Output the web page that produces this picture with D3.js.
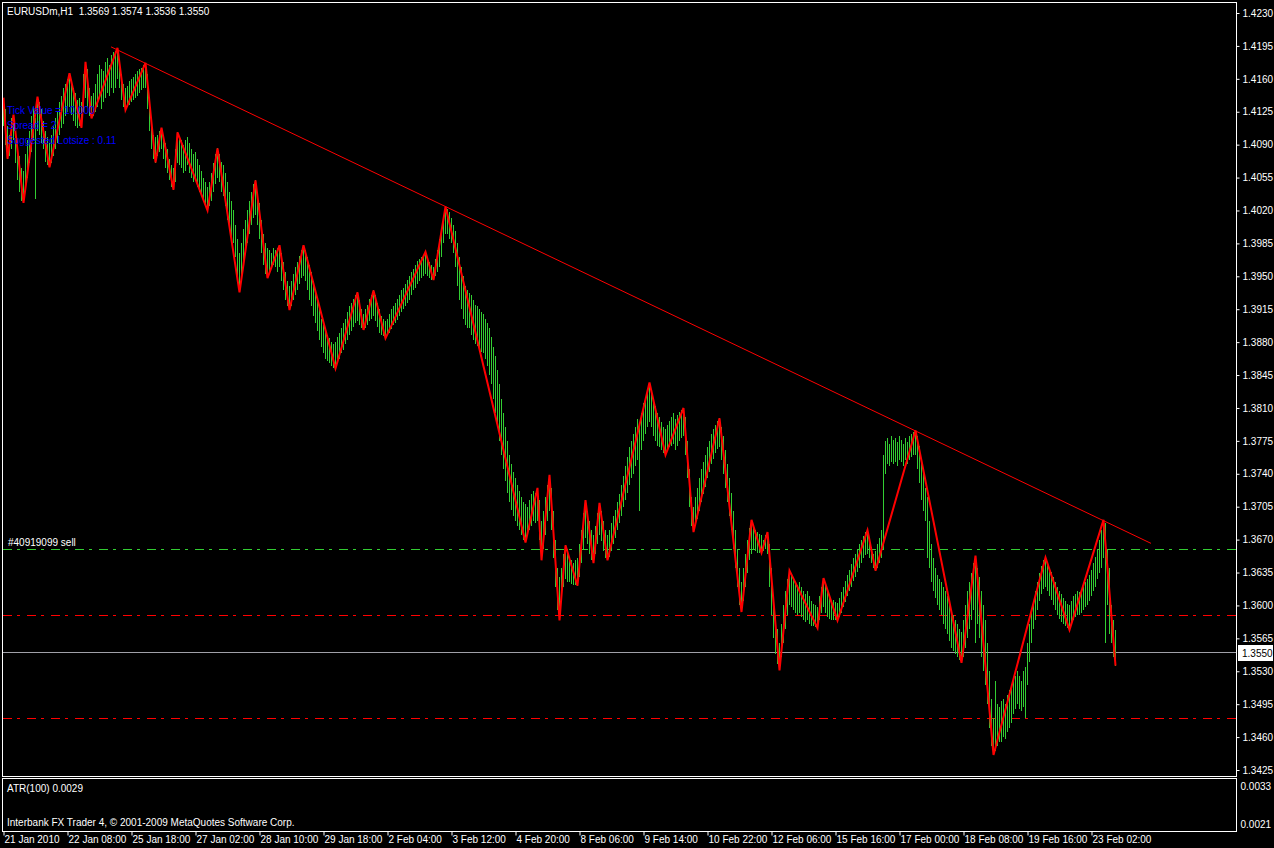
<!DOCTYPE html>
<html>
<head>
<meta charset="utf-8">
<script src="https://cdn.jsdelivr.net/npm/d3@7"></script>
<style>
  html, body { margin: 0; padding: 0; background: #000; }
  svg { display: block; }
  text { font-family: "Liberation Sans", Arial, sans-serif; }
</style>
</head>
<body>
<div id="chart"></div>
<script>
// EURUSDm H1 bars, values in pips above 1.3000 (1193 -> 1.4193)
const barHigh = [
  1140,1128,1110,1100,1118,1122,1105,1090,1078,1065,1062,
  1080,1095,1105,1120,1130,1118,1141,
  1135,1128,1115,1105,1098,1092,
  1100,1110,1118,1125,1135,1142,1150,1155,1160,1166,
  1158,1150,1145,1138,1140,1135,
  1165,1178,
  1170,1150,1142,
  1145,1155,1165,1175,1170,1168,1178,1182,1175,1185,1188,1190,1193,
  1180,1165,1155,1150,
  1152,1158,1160,1162,1165,1168,1170,1172,1175,1177,
  1165,1140,1118,1100,1098,
  1100,1105,1108,
  1100,1092,1085,1075,1068,1065,
  1085,1103,
  1098,1095,1090,1095,1098,1092,1085,1080,1082,1075,1068,1062,1055,1050,1045,
  1050,1060,1070,1080,1086,
  1080,1072,1068,1060,1050,1040,1030,1020,1005,990,975,
  985,1000,1010,1020,1030,1040,1048,1052,
  1040,1028,1010,995,985,980,
  978,975,980,978,980,983,
  975,965,955,945,940,
  945,952,960,965,972,978,983,
  978,970,962,955,945,935,925,915,905,898,892,888,884,880,878,880,
  885,890,895,900,905,912,918,922,926,930,933,
  925,915,910,
  915,920,926,930,935,
  930,922,915,908,905,902,
  905,910,915,918,922,926,930,935,938,942,946,950,955,958,962,966,968,970,972,976,
  970,965,962,960,
  968,978,990,1000,1012,1024,
  1022,1018,1012,1005,998,985,970,960,950,940,935,932,930,925,920,918,915,912,910,905,
  900,895,885,875,865,850,835,820,805,790,775,760,750,742,735,728,722,715,710,708,
  705,712,718,722,720,725,
  712,690,
  700,715,728,739,
  725,700,670,640,630,
  640,655,664,
  660,652,648,645,648,650,
  665,680,698,712,
  700,690,680,675,
  685,698,709,
  700,690,680,675,
  680,688,695,702,710,718,728,738,748,758,768,775,782,790,798,792,805,815,822,830,837,
  830,820,812,805,800,795,790,788,
  792,796,800,805,798,802,806,808,810,
  800,775,745,715,705,
  715,725,735,745,752,760,768,775,782,788,792,796,799,
  790,780,765,750,735,720,700,680,660,640,625,
  640,655,670,682,691,
  685,680,678,676,675,
  670,675,678,
  665,640,610,590,575,560,
  580,600,615,628,637,
  632,628,625,622,625,620,615,612,615,610,605,602,600,598,
  610,620,629,
  622,615,610,605,606,604,603,
  608,614,620,626,632,638,644,650,655,660,665,670,674,678,680,
  672,662,655,658,
  665,672,680,760,775,778,772,780,776,778,774,780,776,772,778,774,780,782,784,786,
  780,770,755,740,725,715,690,665,650,640,632,628,625,620,615,610,600,595,590,585,580,575,572,
  585,600,615,625,635,645,653,
  640,630,615,600,585,560,530,500,480,
  520,495,492,498,500,495,505,510,515,520,525,530,525,520,530,535,560,580,595,605,615,625,635,642,648,651,
  645,640,636,630,625,620,615,612,608,605,602,600,
  605,610,612,615,614,618,620,625,628,632,638,645,652,660,670,680,691,
  688,660,640,600,585,574
];
const barLow = [
  1110,1090,1075,1078,1085,1095,1070,1052,1040,1030,1028,
  1040,1055,1070,1082,1095,1032,1105,
  1100,1092,1085,1072,1068,1066,
  1070,1078,1085,1092,1100,1108,1112,1120,1125,1130,
  1122,1115,1110,1108,1110,1108,
  1125,1140,
  1130,1120,1118,
  1120,1125,1130,1140,1128,1135,1140,1145,1142,1150,1145,1150,1160,
  1150,1138,1130,1127,
  1130,1132,1135,1138,1140,1142,1145,1148,1150,1150,
  1128,1105,1085,1075,1071,
  1078,1082,1085,
  1075,1065,1060,1052,1045,1042,
  1050,1070,
  1068,1065,1060,1062,1068,1060,1055,1050,1052,1045,1040,1035,1030,1025,1020,
  1025,1030,1040,1048,1055,
  1050,1040,1035,1025,1010,1000,992,985,970,950,933,
  950,965,975,985,995,1005,1012,1015,
  1005,990,975,962,952,948,
  952,958,962,960,955,960,
  945,935,925,918,914,
  918,925,930,935,942,948,950,
  945,935,925,918,908,900,892,882,875,868,862,860,858,855,853,852,
  858,862,868,872,878,882,888,892,896,900,902,
  898,895,893,
  895,898,902,905,908,
  902,896,890,888,886,884,
  888,890,894,898,900,904,908,912,915,918,922,925,930,935,938,942,945,948,950,952,
  950,948,946,946,
  950,955,960,970,985,995,
  995,990,985,975,960,940,925,915,905,898,895,895,888,882,878,876,872,870,868,862,
  855,845,835,820,805,790,775,760,745,732,720,710,702,695,690,685,680,675,670,667,
  675,680,685,690,688,690,
  670,648,
  660,675,690,700,
  680,650,620,595,584,
  605,620,628,
  625,625,623,622,622,621,
  630,645,660,672,
  665,655,648,645,
  655,665,675,
  668,658,650,648,
  652,658,665,672,680,688,695,705,712,720,728,735,740,748,755,700,765,775,782,790,795,
  790,780,775,770,768,765,762,760,
  765,768,770,772,765,770,775,778,780,
  760,735,705,685,678,
  685,692,700,710,718,726,735,742,750,756,762,766,768,
  755,740,725,710,695,680,660,640,620,600,593,
  605,620,635,648,655,
  660,658,656,656,656,
  658,660,655,
  620,590,565,548,538,531,
  545,560,575,590,600,
  598,595,592,590,592,588,585,582,585,580,578,578,577,576,
  585,592,598,
  592,588,586,585,585,584,584,
  588,592,598,604,610,615,620,626,630,636,640,645,650,654,655,
  650,645,640,637,
  640,645,650,660,740,750,748,752,750,752,748,755,752,748,755,750,755,758,760,760,
  745,730,712,700,690,650,640,625,615,608,600,595,590,580,575,570,562,555,552,548,545,542,539,
  545,555,565,575,585,595,560,
  580,565,545,530,515,495,470,450,441,
  445,450,455,455,460,458,465,470,475,485,490,495,490,488,492,480,515,540,560,575,585,595,605,612,618,620,
  615,610,606,600,595,590,586,582,580,578,576,574,
  580,585,588,590,590,592,595,598,600,605,610,615,620,628,635,640,650,
  560,600,570,560,545,536
];

// ZigZag turning points: bar index and price (pips above 1.3000)
const zzBar = [0,2,5,10,17,23,33,39,41,44,57,61,71,76,79,85,87,102,107,118,126,132,138,143,150,166,177,180,185,191,
  211,215,221,261,267,269,273,278,281,287,291,295,298,302,323,331,340,345,358,369,374,379,382,388,393,407,410,417,
  432,436,456,479,486,495,521,533,550,556];
const zzPips = [1140,1075,1122,1028,1141,1066,1166,1108,1178,1118,1193,1127,1177,1071,1108,1042,1103,1020,1086,933,1052,948,983,914,983,852,933,893,935,884,
  976,946,1024,667,725,648,739,584,664,621,712,645,709,648,837,760,810,678,799,593,691,656,678,531,637,576,629,584,
  680,637,786,539,653,441,651,574,691,536];

// trend line anchors (bar index, price)
const trendBar = [54, 574];
const trendPrice = [1.4194, 1.3666];

// horizontal levels
const orderPrice = 1.3660;
const stopPrices = [1.3590, 1.3480];
const lastPrice = 1.3550;

const priceTicks = [1.4230,1.4195,1.4160,1.4125,1.4090,1.4055,1.4020,1.3985,1.3950,1.3915,1.3880,1.3845,
  1.3810,1.3775,1.3740,1.3705,1.3670,1.3635,1.3600,1.3565,1.3530,1.3495,1.3460,1.3425];
const atrTicks = [0.0033, 0.0021];

const timeBars = [0,32,64,96,128,160,192,224,256,288,320,352,384,416,448,480,512,544];
const timeLabels = ["21 Jan 2010","22 Jan 08:00","25 Jan 18:00","27 Jan 02:00","28 Jan 10:00","29 Jan 18:00",
  "2 Feb 04:00","3 Feb 12:00","4 Feb 20:00","8 Feb 06:00","9 Feb 14:00","10 Feb 22:00","12 Feb 06:00",
  "15 Feb 16:00","17 Feb 00:00","18 Feb 08:00","19 Feb 16:00","23 Feb 02:00"];

const toPrice = p => 1.3 + p / 10000;

const W = 1274, H = 848;
const panelRight = 1236, mainTop = 2, mainBottom = 776, atrTop = 778, atrBottom = 831;

const svg = d3.select("#chart").append("svg")
  .attr("width", W).attr("height", H)
  .style("background", "#000");

// bar index -> pixel, 2px per bar
const x = d3.scaleLinear().domain([0, 1]).range([3, 5]);
const y = d3.scaleLinear().domain([1.3425, 1.4230]).range([770, 13]);
const yAtr = d3.scaleLinear().domain([0.0021, 0.0033]).range([824, 786]);

svg.append("clipPath").attr("id", "main-clip")
  .append("rect").attr("x", 3).attr("y", mainTop + 1)
  .attr("width", panelRight - 3).attr("height", mainBottom - mainTop - 1);

const plot = svg.append("g").attr("clip-path", "url(#main-clip)");

// horizontal levels
function dashLine(price, color) {
  plot.append("line")
    .attr("x1", 3).attr("x2", panelRight)
    .attr("y1", Math.round(y(price)) + 0.5).attr("y2", Math.round(y(price)) + 0.5)
    .attr("stroke", color).attr("stroke-width", 1)
    .attr("stroke-dasharray", "9,5,3,7")
    .attr("shape-rendering", "crispEdges");
}
dashLine(orderPrice, "#32cd32");
stopPrices.forEach(p => dashLine(p, "#ff0000"));

plot.append("line")
  .attr("x1", 3).attr("x2", panelRight)
  .attr("y1", Math.round(y(lastPrice)) + 0.5).attr("y2", Math.round(y(lastPrice)) + 0.5)
  .attr("stroke", "#a0a0a8").attr("shape-rendering", "crispEdges");

// price bars
plot.append("g").selectAll("line")
  .data(d3.range(barHigh.length))
  .join("line")
  .attr("x1", i => Math.round(x(i)) + 0.5)
  .attr("x2", i => Math.round(x(i)) + 0.5)
  .attr("y1", i => y(toPrice(barHigh[i])))
  .attr("y2", i => y(toPrice(barLow[i])))
  .attr("stroke", "#32cd32")
  .attr("stroke-width", 1)
  .attr("shape-rendering", "crispEdges");

// zigzag
const zz = zzBar.map((b, k) => [b, toPrice(zzPips[k])]);
plot.append("path")
  .datum(zz)
  .attr("d", d3.line().x(d => x(d[0]) + 0.5).y(d => y(d[1])))
  .attr("fill", "none")
  .attr("stroke", "#ff0000")
  .attr("stroke-width", 2);

// trend line
plot.append("line")
  .attr("x1", x(trendBar[0])).attr("y1", y(trendPrice[0]))
  .attr("x2", x(trendBar[1])).attr("y2", y(trendPrice[1]))
  .attr("stroke", "#ff0000").attr("stroke-width", 1);

// panel frames
svg.append("rect")
  .attr("x", 2.5).attr("y", mainTop + 0.5)
  .attr("width", panelRight - 2).attr("height", mainBottom - mainTop)
  .attr("fill", "none").attr("stroke", "#fff");
svg.append("rect")
  .attr("x", 2.5).attr("y", atrTop + 0.5)
  .attr("width", panelRight - 2).attr("height", atrBottom - atrTop)
  .attr("fill", "none").attr("stroke", "#fff");

// price axis
const yAxis = svg.append("g")
  .attr("transform", `translate(${panelRight + 0.5},0)`)
  .call(d3.axisRight(y).tickValues(priceTicks).tickSize(3).tickPadding(3).tickFormat(d3.format(".4f")));
yAxis.select(".domain").remove();
yAxis.selectAll("line").attr("stroke", "#fff");
yAxis.selectAll("text").attr("fill", "#fff").style("font-size", "10px");

// last price label
const lp = svg.append("g").attr("transform", `translate(1238,${Math.round(y(lastPrice)) - 7})`);
lp.append("rect").attr("width", 35).attr("height", 16).attr("fill", "#fff");
lp.append("text").attr("x", 4).attr("y", 12).attr("fill", "#000")
  .style("font-size", "10px").text(lastPrice.toFixed(4));

// ATR axis
const atrAxis = svg.append("g")
  .attr("transform", `translate(${panelRight + 0.5},0)`)
  .call(d3.axisRight(yAtr).tickValues(atrTicks).tickSize(0).tickPadding(4).tickFormat(d3.format(".4f")));
atrAxis.select(".domain").remove();
atrAxis.selectAll("text").attr("fill", "#fff").style("font-size", "10px");

// time axis
const xAxis = svg.append("g")
  .attr("transform", `translate(0,${atrBottom + 0.5})`)
  .call(d3.axisBottom(x).tickValues(timeBars).tickSize(4).tickFormat((d, k) => timeLabels[k]));
xAxis.select(".domain").remove();
xAxis.selectAll("line").attr("stroke", "#fff").attr("transform", "translate(0.5,0)");
xAxis.selectAll("text")
  .attr("fill", "#fff").attr("text-anchor", "start")
  .attr("x", 1).attr("y", 4).attr("dy", "0.71em")
  .style("font-size", "10px");

// texts
svg.append("text").attr("x", 7).attr("y", 15).attr("fill", "#fff").style("font-size", "10px")
  .attr("xml:space", "preserve")
  .text("EURUSDm,H1  1.3569 1.3574 1.3536 1.3550");

const infoLines = ["Tick Value = 10.000", "Spread = 2", "Suggested Lotsize : 0.11"];
svg.append("g").selectAll("text").data(infoLines).join("text")
  .attr("x", 7).attr("y", (d, k) => 114 + k * 15)
  .attr("fill", "#0000ff").style("font-size", "10px")
  .text(d => d);

svg.append("text").attr("x", 8).attr("y", 546).attr("fill", "#fff").style("font-size", "10px")
  .text("#40919099 sell");

svg.append("text").attr("x", 7).attr("y", 792).attr("fill", "#fff").style("font-size", "10px")
  .text("ATR(100) 0.0029");
svg.append("text").attr("x", 7).attr("y", 826).attr("fill", "#fff").style("font-size", "10px")
  .text("Interbank FX Trader 4, © 2001-2009 MetaQuotes Software Corp.");
</script>
</body>
</html>
